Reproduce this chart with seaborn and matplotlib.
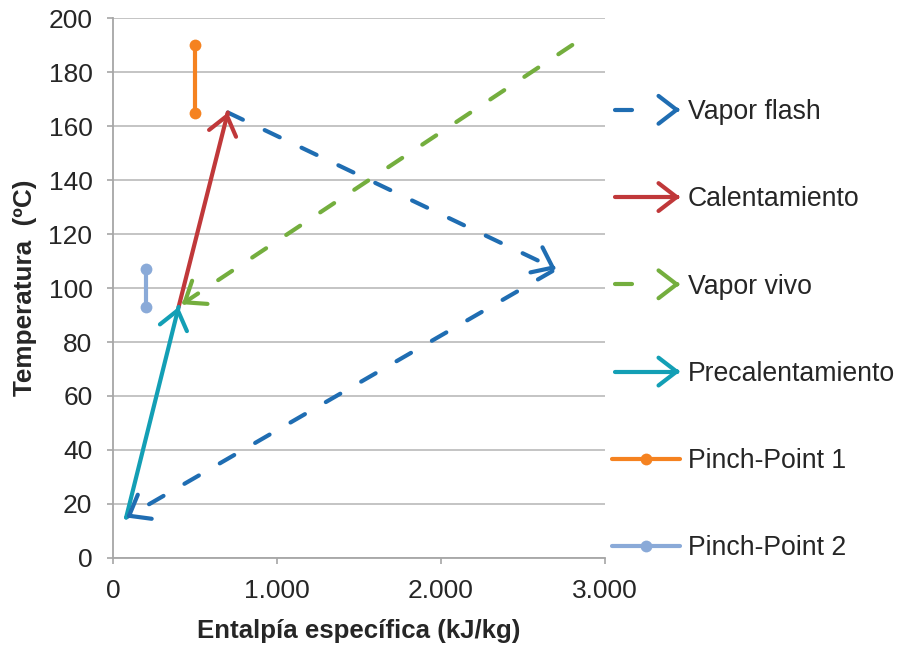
import matplotlib
matplotlib.use('Agg')
import matplotlib.pyplot as plt
import seaborn as sns
import pandas as pd
from matplotlib.lines import Line2D
from matplotlib.patches import FancyArrowPatch
from matplotlib.legend_handler import HandlerBase
from matplotlib.ticker import FuncFormatter, MultipleLocator

# Datos (entalpía kJ/kg, temperatura ºC)
flash_h = [700, 2700, 80]
flash_t = [165, 107, 15]
calent_h = [400, 700]
calent_t = [93, 165]
vivo_h = [2800, 420]
vivo_t = [190, 94]
precal_h = [80, 400]
precal_t = [15, 93]
pp1_h = [500, 500]
pp1_t = [165, 190]
pp2_h = [200, 200]
pp2_t = [93, 107]

labels = ['Vapor flash', 'Calentamiento', 'Vapor vivo', 'Precalentamiento',
          'Pinch-Point 1', 'Pinch-Point 2']
colors = ['#1F6DB2', '#C0383A', '#74AE3E', '#139FB5', '#F58220', '#8AAAD8']

sns.set_theme(style='white')
plt.rcParams['font.family'] = ['Liberation Sans', 'DejaVu Sans']

fig = plt.figure(figsize=(9.02, 6.48), dpi=100)
ax = fig.add_axes([0.1253, 0.1389, 0.5455, 0.8333])

LW = 3.0
DASH = (0, (4.0, 5.8))
ARROW = '->,head_length=0.65,head_width=0.5'


def arrow_series(h, t, color, dashed):
    df = pd.DataFrame({'h': h, 't': t})
    sns.lineplot(data=df, x='h', y='t', sort=False, estimator=None, ax=ax,
                 color=color, lw=LW, linestyle=DASH if dashed else '-',
                 dash_capstyle='round', solid_capstyle='round')
    # punta de flecha al final de cada tramo
    for i in range(1, len(h)):
        x0, y0, x1, y1 = h[i - 1], t[i - 1], h[i], t[i]
        ax.annotate('', xy=(x1, y1), xytext=(x1 - 0.01 * (x1 - x0), y1 - 0.01 * (y1 - y0)),
                    arrowprops=dict(arrowstyle=ARROW, color=color, lw=LW,
                                    shrinkA=0, shrinkB=0, mutation_scale=20,
                                    capstyle='round', joinstyle='round'))


arrow_series(vivo_h, vivo_t, colors[2], True)
arrow_series(flash_h, flash_t, colors[0], True)
arrow_series(calent_h, calent_t, colors[1], False)
arrow_series(precal_h, precal_t, colors[3], False)

for h, t, c in [(pp1_h, pp1_t, colors[4]), (pp2_h, pp2_t, colors[5])]:
    df = pd.DataFrame({'h': h, 't': t})
    sns.lineplot(data=df, x='h', y='t', sort=False, estimator=None, ax=ax,
                 color=c, lw=LW, marker='o', markersize=8.5, markeredgewidth=0)

ax.set_xlim(0, 3000)
ax.set_ylim(0, 200)
ax.xaxis.set_major_locator(MultipleLocator(1000))
ax.yaxis.set_major_locator(MultipleLocator(20))
ax.xaxis.set_major_formatter(FuncFormatter(lambda v, p: f'{int(v):,}'.replace(',', '.')))
ax.grid(axis='y', color='#BFBFBF', lw=1.3)
ax.set_axisbelow(True)
for s in ['top', 'right']:
    ax.spines[s].set_visible(False)
for s in ['left', 'bottom']:
    ax.spines[s].set_color('#A6A6A6')
    ax.spines[s].set_linewidth(1.3)
ax.tick_params(axis='both', length=4.3, width=1.2, color='#A6A6A6',
               labelsize=19, labelcolor='#262626', direction='out',
               left=True, bottom=True)
ax.tick_params(axis='y', pad=10.5)
ax.tick_params(axis='x', pad=10.5)
ax.set_xlabel('Entalpía específica (kJ/kg)', fontsize=18.6, fontweight='bold', color='#262626')
ax.set_ylabel('Temperatura  (ºC)', fontsize=18.8, fontweight='bold', color='#262626')
ax.xaxis.set_label_coords(0.5, -0.113)
ax.yaxis.set_label_coords(-0.154, 0.5)


class ArrowHandler(HandlerBase):
    def __init__(self, dashed):
        super().__init__()
        self.dashed = dashed

    def create_artists(self, legend, orig_handle, xdescent, ydescent, width, height, fontsize, trans):
        c = orig_handle.get_color()
        y = height / 2 - ydescent
        x0, x1 = -xdescent, -xdescent + width
        xe = x0 + 0.3 * width if self.dashed else x1 - 2
        line = Line2D([x0 + 2, xe], [y, y], color=c, lw=LW, solid_capstyle='round', transform=trans)
        head = FancyArrowPatch((x1 - 3, y), (x1, y), arrowstyle=ARROW, color=c, lw=LW,
                               shrinkA=0, shrinkB=0, mutation_scale=20,
                               capstyle='round', joinstyle='round', transform=trans)
        return [line, head]


handles = []
hmap = {}
for i, (lab, c) in enumerate(zip(labels, colors)):
    if i < 4:
        hd = Line2D([], [], color=c)
        hmap[hd] = ArrowHandler(i in (0, 2))
    else:
        hd = Line2D([], [], color=c, lw=LW, marker='o', markersize=8.5, markeredgewidth=0)
    handles.append(hd)

fig.legend(handles, labels, handler_map=hmap, loc='upper left',
           bbox_to_anchor=(0.6785, 0.847), frameon=False, fontsize=19.2,
           handlelength=2.55, handletextpad=0.3, labelspacing=2.297,
           numpoints=1, borderpad=0, borderaxespad=0, labelcolor='#262626')

fig.savefig('out.png', dpi=100)
